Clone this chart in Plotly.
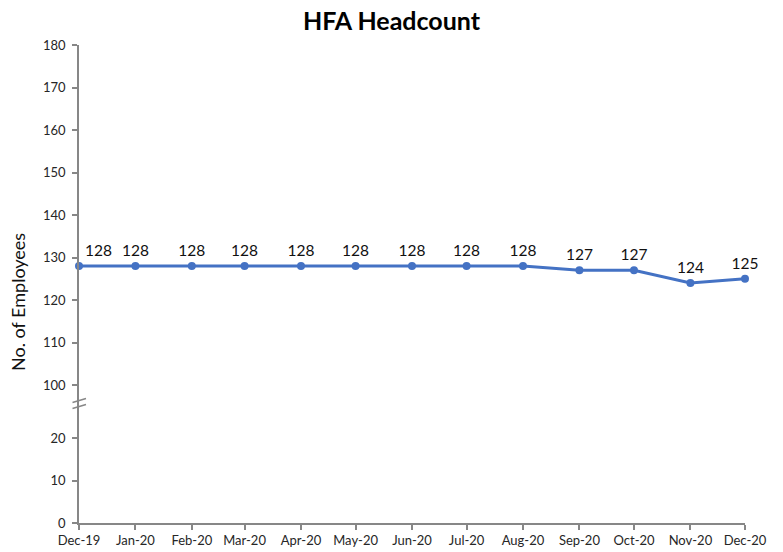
import plotly.graph_objects as go

months = ["2019-12-01", "2020-01-01", "2020-02-01", "2020-03-01", "2020-04-01",
          "2020-05-01", "2020-06-01", "2020-07-01", "2020-08-01", "2020-09-01",
          "2020-10-01", "2020-11-01", "2020-12-01"]
month_labels = ["Dec-19", "Jan-20", "Feb-20", "Mar-20", "Apr-20", "May-20", "Jun-20",
                "Jul-20", "Aug-20", "Sep-20", "Oct-20", "Nov-20", "Dec-20"]
headcount = [128, 128, 128, 128, 128, 128, 128, 128, 128, 127, 127, 124, 125]
lower_ticks = [0, 10, 20]
upper_ticks = [100, 110, 120, 130, 140, 150, 160, 170, 180]

FONT = "Lato, 'Open Sans', sans-serif"
AXIS_COL = "#878787"
BLUE = "#4472C4"

W, H = 783, 552
ML, MR, MT, MB = 79, 38, 45, 29
plot_h = H - MT - MB
scale = (385 - 45) / 80.0  # px per unit (both axis segments)
break_px = 403
split = (523 - break_px) / plot_h
lower_top = (523 - break_px) / scale
upper_bottom = 180 - (break_px - 45) / scale

positions = ["top right"] + ["top center"] * (len(headcount) - 1)

fig = go.Figure()
# empty trace so the lower (0-20) axis segment exists as its own subplot
fig.add_trace(go.Scatter(x=[months[0]], y=[None], xaxis="x", yaxis="y", mode="lines",
                         showlegend=False, hoverinfo="skip"))
fig.add_trace(go.Scatter(
    x=months, y=headcount, xaxis="x", yaxis="y2", mode="lines+markers+text",
    line=dict(color=BLUE, width=3), marker=dict(color=BLUE, size=8),
    text=[str(v) for v in headcount], textposition=positions,
    textfont=dict(family=FONT, size=15.5, color="#111111"),
    cliponaxis=False, showlegend=False, hoverinfo="x+y"))

axis_common = dict(showline=True, linecolor=AXIS_COL, linewidth=1.5, ticks="outside", ticklen=5,
                   tickcolor=AXIS_COL, tickwidth=1.5, showgrid=False, zeroline=False,
                   tickfont=dict(family=FONT, size=13, color="#262626"), automargin=False)

fig.update_layout(
    width=W, height=H, margin=dict(l=ML, r=MR, t=MT, b=MB, autoexpand=False),
    paper_bgcolor="white", plot_bgcolor="white",
    font=dict(family=FONT, color="#262626"),
    title=dict(text="<b>HFA Headcount</b>", x=0.5, xanchor="center", y=0.962, yanchor="middle",
               font=dict(family=FONT, size=25, color="#000000")),
    xaxis=dict(type="date", range=[months[0], months[-1]], tickvals=months, ticktext=month_labels,
               anchor="y", **axis_common),
    yaxis=dict(domain=[0, split], range=[0, lower_top], tickvals=lower_ticks,
               anchor="x", ticklabelstandoff=4, **axis_common),
    yaxis2=dict(domain=[split, 1], range=[upper_bottom, 180], tickvals=upper_ticks,
                anchor="x", ticklabelstandoff=4, **axis_common),
)

# axis break marks
pw = W - ML - MR
for dy in (-2.5, 3.5):
    y0 = split - (dy + 2) / plot_h
    y1 = split - (dy - 2) / plot_h
    fig.add_shape(type="line", xref="paper", yref="paper",
                  x0=-6.5 / pw, x1=7 / pw, y0=y0, y1=y1,
                  line=dict(color=AXIS_COL, width=1.5))

fig.add_annotation(text="No. of Employees", xref="paper", yref="paper",
                   x=(18 - ML) / pw, y=(523 - 302) / plot_h, textangle=-90,
                   showarrow=False, xanchor="center", yanchor="middle",
                   font=dict(family=FONT, size=18, color="#111111"))

fig.write_html("out.html", config={"displayModeBar": False},
               post_script="document.body.style.margin='0';document.body.style.overflow='hidden';")
